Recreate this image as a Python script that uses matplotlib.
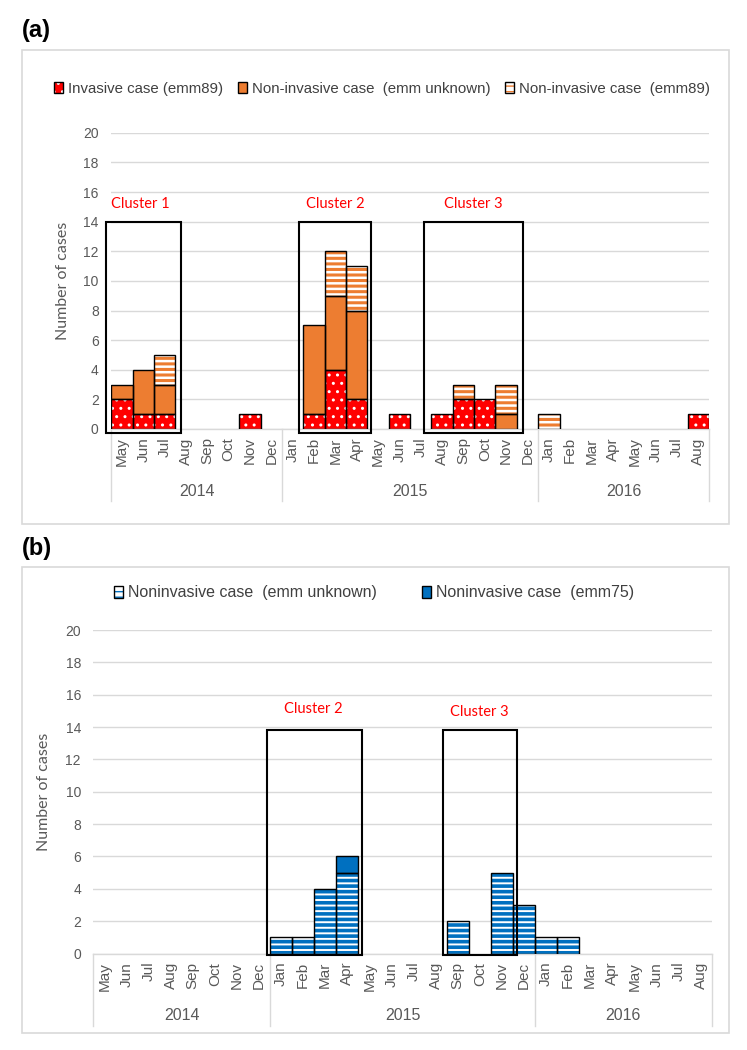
import numpy as np
import matplotlib
matplotlib.use("Agg")
import matplotlib.pyplot as plt
from matplotlib.patches import Patch, Rectangle

# ---- data ----
months = ['May', 'Jun', 'Jul', 'Aug', 'Sep', 'Oct', 'Nov', 'Dec',
          'Jan', 'Feb', 'Mar', 'Apr', 'May', 'Jun', 'Jul', 'Aug', 'Sep', 'Oct', 'Nov', 'Dec',
          'Jan', 'Feb', 'Mar', 'Apr', 'May', 'Jun', 'Jul', 'Aug']
years = ['2014', '2015', '2016']
months_per_year = [8, 12, 8]

# panel (a)
invasive_a = np.array([2, 1, 1, 0, 0, 0, 1, 0,
                       0, 1, 4, 2, 0, 1, 0, 1, 2, 2, 0, 0,
                       0, 0, 0, 0, 0, 0, 0, 1])
noninv_unknown_a = np.array([1, 3, 2, 0, 0, 0, 0, 0,
                             0, 6, 5, 6, 0, 0, 0, 0, 0, 0, 1, 0,
                             0, 0, 0, 0, 0, 0, 0, 0])
noninv_emm89_a = np.array([0, 0, 2, 0, 0, 0, 0, 0,
                           0, 0, 3, 3, 0, 0, 0, 0, 1, 0, 2, 0,
                           1, 0, 0, 0, 0, 0, 0, 0])

# panel (b)
noninv_unknown_b = np.array([0, 0, 0, 0, 0, 0, 0, 0,
                             1, 1, 4, 5, 0, 0, 0, 0, 2, 0, 5, 3,
                             1, 1, 0, 0, 0, 0, 0, 0])
noninv_emm75_b = np.array([0, 0, 0, 0, 0, 0, 0, 0,
                           0, 0, 0, 1, 0, 0, 0, 0, 0, 0, 0, 0,
                           0, 0, 0, 0, 0, 0, 0, 0])

# cluster boxes: label, left, right (in month positions), label x
clusters_a = [('Cluster 1', -0.74, 2.76, 0.88),
              ('Cluster 2', 8.31, 11.67, 9.98),
              ('Cluster 3', 14.17, 18.80, 16.46)]
clusters_b = [('Cluster 2', 7.35, 11.65, 9.45),
              ('Cluster 3', 15.32, 18.67, 17.0)]

RED = '#FF0000'
ORANGE = '#ED7D31'
BLUE = '#0070C0'
GRID = '#D9D9D9'
TXT = '#595959'
LEG = '#404040'
W, H = 747, 1050

plt.rcParams['font.family'] = ['Liberation Sans', 'DejaVu Sans']


def fig_rect(left, top, right, bottom):
    return [left / W, 1 - bottom / H, (right - left) / W, (bottom - top) / H]


def bars(ax, x, h, bottom, face, hcolor, hatch, hlw):
    m = h > 0
    with plt.rc_context({'hatch.linewidth': hlw}):
        ax.bar(x[m], h[m], width=1.0, bottom=bottom[m], color=face,
               edgecolor=hcolor, hatch=hatch, linewidth=0, zorder=2)
    ax.bar(x[m], h[m], width=1.0, bottom=bottom[m], fill=False,
           edgecolor='black', linewidth=1.0, zorder=3)


def style_axis(ax, axis_px_bottom, month_pad, year_px, sep_px):
    n = len(months)
    ax.set_xlim(-0.5, n - 0.5)
    ax.set_ylim(0, 20)
    ax.set_yticks(range(0, 21, 2))
    ax.set_xticks(range(n))
    ax.set_xticklabels(months, rotation=90, color=TXT, fontsize=11)
    ax.tick_params(axis='x', length=0, pad=month_pad)
    ax.tick_params(axis='y', length=0, pad=9, labelcolor=TXT, labelsize=10)
    for s in ['top', 'right', 'left']:
        ax.spines[s].set_visible(False)
    ax.spines['bottom'].set_color(GRID)
    ax.spines['bottom'].set_linewidth(1.0)
    ax.set_axisbelow(True)
    ax.yaxis.grid(True, color=GRID, linewidth=1.0)
    ax.set_ylabel('Number of cases', family='Lato', fontsize=11.5, color=TXT)

    # year level of the category axis
    h_ax = ax.get_position().height * H
    y_year = -(year_px - axis_px_bottom) / h_ax
    y_sep = -(sep_px - axis_px_bottom) / h_ax
    tr = ax.get_xaxis_transform()
    start = 0
    bounds = [-0.5]
    for yr, cnt in zip(years, months_per_year):
        ax.text(start + (cnt - 1) / 2, y_year, yr, transform=tr, ha='center',
                va='center', color=TXT, fontsize=11.5)
        start += cnt
        bounds.append(start - 0.5)
    for b in bounds:
        ax.plot([b, b], [0, y_sep], transform=tr, color=GRID, lw=1.0,
                clip_on=False)


def draw_clusters(ax, clusters, top, bottom, label_y):
    for (name, x0, x1, lx), ly in zip(clusters, label_y):
        ax.add_patch(Rectangle((x0, bottom), x1 - x0, top - bottom, fill=False,
                               edgecolor='black', linewidth=1.5, zorder=4,
                               clip_on=False))
        ax.text(lx, ly, name, color='red', ha='center', va='center',
                family='Lato', fontsize=10.5)


fig = plt.figure(figsize=(W / 100, H / 100), dpi=100)

# panel frames
for top, bottom in [(50, 524), (566.7, 1032.7)]:
    fig.add_artist(Rectangle((21.7 / W, 1 - bottom / H), (729.3 - 21.7) / W,
                             (bottom - top) / H, transform=fig.transFigure,
                             fill=False, edgecolor=GRID, linewidth=1.2))
fig.text(21.7 / W, 1 - 30 / H, '(a)', fontsize=17, fontweight='bold', va='center')
fig.text(21.7 / W, 1 - 549 / H, '(b)', fontsize=17, fontweight='bold', va='center')

x = np.arange(len(months))

# ---- panel (a) ----
ax1 = fig.add_axes(fig_rect(111.2, 132.8, 709, 429))
style_axis(ax1, 429, 6, 491, 501)
ax1.yaxis.set_label_coords(-0.069, 0.5)
zero = np.zeros(len(months))
bars(ax1, x, invasive_a, zero, RED, 'white', '..', 1.0)
bars(ax1, x, noninv_unknown_a, invasive_a, ORANGE, ORANGE, None, 1.0)
bars(ax1, x, noninv_emm89_a, invasive_a + noninv_unknown_a, 'white', ORANGE, '---', 2.2)
draw_clusters(ax1, clusters_a, 14, -0.25, [15.2, 15.2, 15.2])

h1 = [(Patch(facecolor=RED, edgecolor='white', hatch='..', linewidth=0),
       Patch(fill=False, edgecolor='black', linewidth=1.0)),
      (Patch(facecolor=ORANGE, edgecolor=ORANGE, linewidth=0),
       Patch(fill=False, edgecolor='black', linewidth=1.0)),
      (Patch(facecolor='white', edgecolor=ORANGE, hatch='---', linewidth=0),
       Patch(fill=False, edgecolor='black', linewidth=1.0))]
fig.legend(h1, ['Invasive case (emm89)', 'Non-invasive case  (emm unknown)',
                'Non-invasive case  (emm89)'],
           loc='center', bbox_to_anchor=(382 / W, 1 - 89 / H), ncol=3,
           frameon=False, handlelength=0.6, handleheight=0.75, handletextpad=0.3,
           columnspacing=1.0, prop={'family': 'Liberation Sans', 'size': 10.8},
           labelcolor=LEG)

# ---- panel (b) ----
ax2 = fig.add_axes(fig_rect(93.4, 630, 711.6, 953.5))
style_axis(ax2, 953.5, 6, 1015, 1026)
ax2.yaxis.set_label_coords(-0.0686, 0.5)
bars(ax2, x, noninv_unknown_b, zero, 'white', BLUE, '---', 2.6)
bars(ax2, x, noninv_emm75_b, noninv_unknown_b, BLUE, BLUE, None, 1.0)
draw_clusters(ax2, clusters_b, 13.8, -0.12, [15.1, 14.9])

h2 = [(Patch(facecolor='white', edgecolor=BLUE, hatch='---', linewidth=0),
       Patch(fill=False, edgecolor='black', linewidth=1.0)),
      (Patch(facecolor=BLUE, edgecolor=BLUE, linewidth=0),
       Patch(fill=False, edgecolor='black', linewidth=1.0))]
fig.legend(h2, ['Noninvasive case  (emm unknown)', 'Noninvasive case  (emm75)'],
           loc='center', bbox_to_anchor=(374 / W, 1 - 593 / H), ncol=2,
           frameon=False, handlelength=0.6, handleheight=0.75, handletextpad=0.3,
           columnspacing=2.8, prop={'family': 'Liberation Sans', 'size': 11.5},
           labelcolor=LEG)

fig.savefig('out.png', dpi=100)
